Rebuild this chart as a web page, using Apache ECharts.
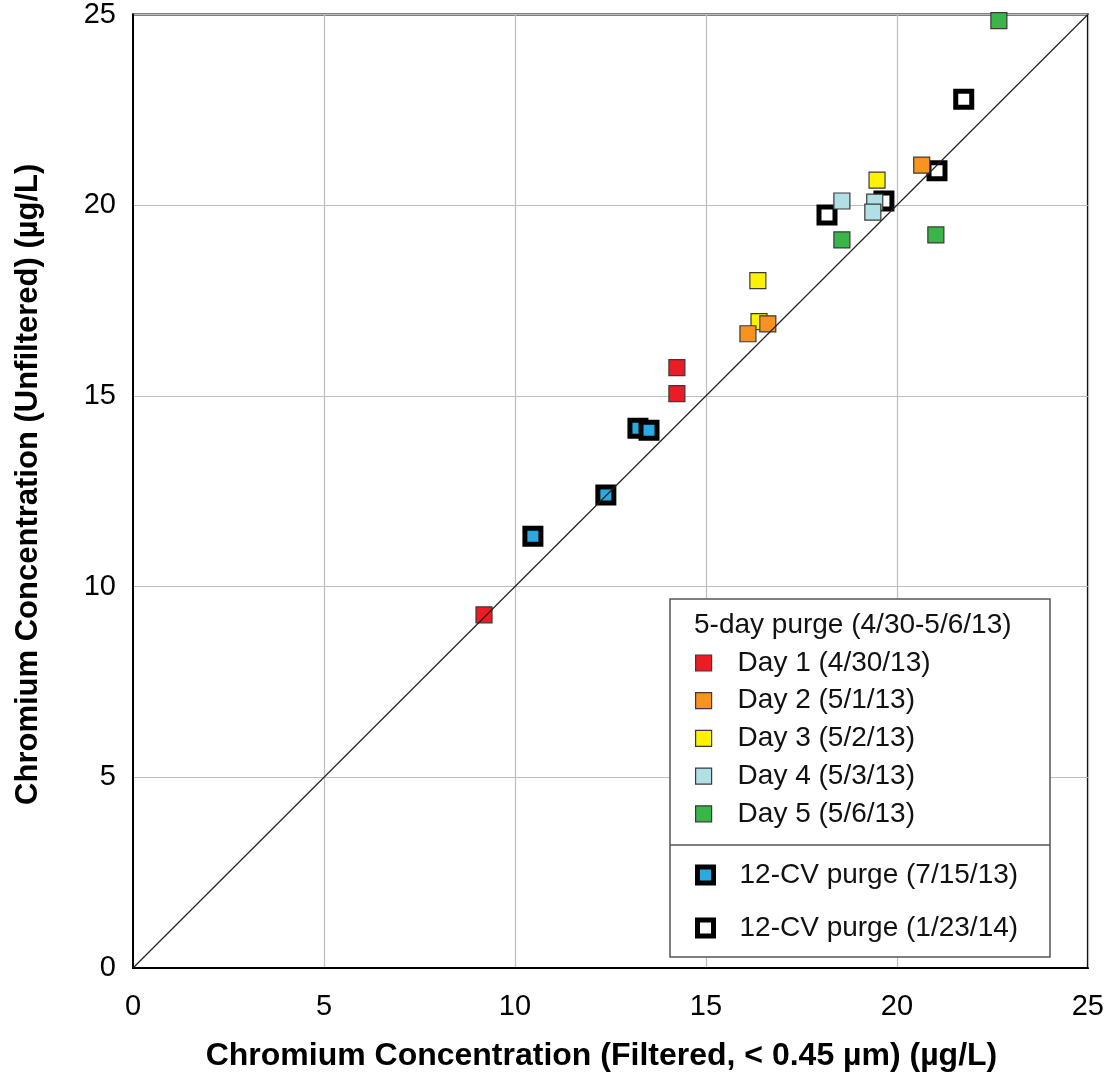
<!DOCTYPE html>
<html>
<head>
<meta charset="utf-8">
<script src="https://cdn.jsdelivr.net/npm/echarts@6/dist/echarts.min.js"></script>
<style>
  html, body { margin: 0; padding: 0; background: #fff; }
  #chart { width: 1107px; height: 1084px; }
</style>
</head>
<body>
<div id="chart"></div>
<script>
// Chromium: filtered (x) vs unfiltered (y), µg/L
const day1 = [[14.24, 15.74], [14.24, 15.06], [9.19, 9.26]];
const day2 = [[20.65, 21.05], [16.62, 16.89], [16.10, 16.63]];
const day3 = [[19.48, 20.66], [16.36, 18.02], [16.39, 16.95]];
const day4 = [[18.56, 20.11], [19.42, 20.08], [19.37, 19.82]];
const day5 = [[22.67, 24.84], [18.56, 19.09], [21.02, 19.22]];
const cv12Jul = [[13.22, 14.15], [13.51, 14.10], [12.38, 12.40], [10.47, 11.32]];
const cv12Jan = [[21.75, 22.78], [21.05, 20.90], [19.66, 20.11], [18.17, 19.74]];
const oneToOne = [[0, 0], [25, 25]];

const axisTicks = [0, 5, 10, 15, 20, 25];

const names = {
  d1: 'Day 1 (4/30/13)',
  d2: 'Day 2 (5/1/13)',
  d3: 'Day 3 (5/2/13)',
  d4: 'Day 4 (5/3/13)',
  d5: 'Day 5 (5/6/13)',
  jul: '12-CV purge (7/15/13)',
  jan: '12-CV purge (1/23/14)'
};
const legendTitle = '5-day purge (4/30-5/6/13)';
const xTitle = 'Chromium Concentration (Filtered, < 0.45 µm) (µg/L)';
const yTitle = 'Chromium Concentration (Unfiltered) (µg/L)';

const FONT = '"Liberation Sans", Arial, Helvetica, sans-serif';
const SQUARE = 'path://M0,0H10V10H0Z';
const LEGEND_FS = 28;

function daySeries(name, data, color) {
  return {
    name, type: 'scatter', data,
    symbol: 'rect', symbolSize: 16,
    itemStyle: { color, borderColor: '#3a3a3a', borderWidth: 1.2, opacity: 1 },
    emphasis: { disabled: true }
  };
}
function cvSeries(name, data, color) {
  return {
    name, type: 'scatter', data,
    symbol: 'rect', symbolSize: 16,
    itemStyle: { color, borderColor: '#000', borderWidth: 5, opacity: 1 },
    emphasis: { disabled: true }
  };
}

const chart = echarts.init(document.getElementById('chart'), null, { renderer: 'canvas' });

const axisCommon = {
  type: 'value', min: 0, max: 25, interval: 5,
  nameLocation: 'middle',
  nameTextStyle: { fontFamily: FONT, fontWeight: 'bold', fontSize: 32, color: '#000' },
  axisLine: { show: true, lineStyle: { color: '#000', width: 2 } },
  axisTick: { show: false },
  splitLine: { show: true, lineStyle: { color: '#bdbdbd', width: 1.2 } },
  axisLabel: {
    fontFamily: FONT, fontSize: 29, color: '#000',
    formatter: v => axisTicks.indexOf(v) >= 0 ? String(v) : ''
  }
};

const legendText = { fontFamily: FONT, fontSize: LEGEND_FS, lineHeight: LEGEND_FS, color: '#111' };

chart.setOption({
  animation: false,
  backgroundColor: '#fff',
  grid: {
    left: 133, top: 12, width: 955, height: 956,
    show: true, borderColor: '#000', borderWidth: 2, backgroundColor: 'transparent'
  },
  xAxis: Object.assign({}, axisCommon, {
    name: xTitle, nameGap: 72,
    nameTextStyle: Object.assign({}, axisCommon.nameTextStyle, { padding: [0, 18, 0, 0] }),
    axisLabel: Object.assign({}, axisCommon.axisLabel, { margin: 24 })
  }),
  yAxis: Object.assign({}, axisCommon, {
    name: yTitle, nameGap: 89,
    nameTextStyle: Object.assign({}, axisCommon.nameTextStyle, { fontSize: 31, padding: [0, 0, 0, 14] }),
    axisLabel: Object.assign({}, axisCommon.axisLabel, { margin: 17 })
  }),
  legend: [
    {
      orient: 'vertical', left: 690, top: 663 - LEGEND_FS / 2 - 5,
      icon: SQUARE, itemWidth: 58, itemHeight: 16, symbolKeepAspect: true,
      itemGap: 37.7 - LEGEND_FS, selectedMode: false,
      textStyle: legendText,
      data: [
        { name: names.d1, itemStyle: { borderColor: '#3a3a3a', borderWidth: 1.2 } },
        { name: names.d2, itemStyle: { borderColor: '#3a3a3a', borderWidth: 1.2 } },
        { name: names.d3, itemStyle: { borderColor: '#3a3a3a', borderWidth: 1.2 } },
        { name: names.d4, itemStyle: { borderColor: '#3a3a3a', borderWidth: 1.2 } },
        { name: names.d5, itemStyle: { borderColor: '#3a3a3a', borderWidth: 1.2 } }
      ]
    },
    {
      orient: 'vertical', left: 690, top: 875 - LEGEND_FS / 2 - 5,
      icon: SQUARE, itemWidth: 58, itemHeight: 16, symbolKeepAspect: true,
      itemGap: 53 - LEGEND_FS, selectedMode: false,
      textStyle: legendText,
      data: [
        { name: names.jul, itemStyle: { borderColor: '#000', borderWidth: 5 } },
        { name: names.jan, itemStyle: { borderColor: '#000', borderWidth: 5 } }
      ]
    }
  ],
  graphic: [
    {
      type: 'rect', z: 3, silent: true,
      shape: { x: 670, y: 599, width: 380, height: 358 },
      style: { fill: '#fff', stroke: '#555', lineWidth: 1.5 }
    },
    {
      type: 'line', z: 3, silent: true,
      shape: { x1: 670, y1: 845, x2: 1050, y2: 845 },
      style: { stroke: '#555', lineWidth: 1.5 }
    },
    {
      type: 'text', z: 3, silent: true, left: 694, top: 611,
      style: { text: legendTitle, font: LEGEND_FS + 'px ' + FONT, fill: '#111' }
    }
  ],
  series: [
    cvSeries(names.jan, cv12Jan, '#ffffff'),
    cvSeries(names.jul, cv12Jul, '#29abe2'),
    daySeries(names.d5, day5, '#39b54a'),
    daySeries(names.d4, day4, '#b0dfe5'),
    daySeries(names.d3, day3, '#fff200'),
    daySeries(names.d2, day2, '#f7931e'),
    daySeries(names.d1, day1, '#ed1c24'),
    {
      name: '1:1', type: 'line', data: oneToOne, z: 5,
      symbol: 'none', silent: true,
      lineStyle: { color: '#222', width: 1.2 },
      emphasis: { disabled: true }
    }
  ]
});
</script>
</body>
</html>
